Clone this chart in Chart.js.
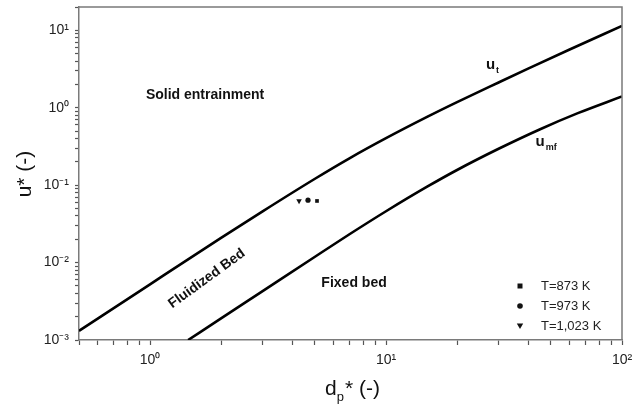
<!DOCTYPE html>
<html>
<head>
<meta charset="utf-8">
<script src="https://cdn.jsdelivr.net/npm/chart.js@4.4.0/dist/chart.umd.min.js"></script>
<style>
  body { margin: 0; background: #fff; }
  #wrap { width: 641px; height: 408px; }
</style>
</head>
<body>
<div id="wrap"><canvas id="regimeChart" width="641" height="408"></canvas></div>
<script>
// terminal velocity curve (u_t)
const utD = [0.5, 1, 2, 3, 5, 7, 10, 15, 20, 30, 40, 60, 100];
const utU = [0.00131, 0.00524, 0.0208, 0.0459, 0.121, 0.222, 0.404, 0.766, 1.18, 2.12, 3.2, 5.65, 11.4];

// minimum fluidization curve (u_mf)
const umfD = [1.45, 2, 3, 5, 7, 10, 15, 20, 30, 45, 65, 100];
const umfU = [0.001, 0.0019, 0.00428, 0.0119, 0.0232, 0.046, 0.0962, 0.157, 0.295, 0.528, 0.851, 1.4];

// experimental points
const tempLabels = ['T=873 K', 'T=973 K', 'T=1,023 K'];
const expD = [5.1, 4.67, 4.28];
const expU = [0.0625, 0.064, 0.0625];

// axis decades and tick labels
const xDecades = [1, 10, 100];
const xTickLabels = ['10\u2070', '10\u00b9', '10\u00b2'];
const yDecades = [0.001, 0.01, 0.1, 1, 10];
const yTickLabels = ['10\u207b\u00b3', '10\u207b\u00b2', '10\u207b\u00b9', '10\u2070', '10\u00b9'];

const FONT = '"Liberation Sans", Arial, sans-serif';

const toPoints = (xs, ys) => xs.map((x, i) => ({ x: x, y: ys[i] }));

// ticks at 1..9 x 10^n inside [min, max]
const logTicks = (min, max) => {
    const out = [];
    for (let n = -4; n <= 3; n++) {
        for (let k = 1; k <= 9; k++) {
            const v = parseFloat((k * Math.pow(10, n)).toPrecision(3));
            if (v >= min - 1e-9 && v <= max + 1e-9) out.push(v);
        }
    }
    return out;
};

const decadeLabel = (v, decades, labels) => {
    const i = decades.findIndex(d => Math.abs(v / d - 1) < 1e-6);
    return i >= 0 ? labels[i] : '';
};

// frame, axis titles, region labels, legend
const decorPlugin = {
    id: 'decor',
    afterDraw(chart) {
        const ctx = chart.ctx;
        const a = chart.chartArea;
        const xs = chart.scales.x, ys = chart.scales.y;
        ctx.save();

        // top and right border
        ctx.strokeStyle = '#7a7a7a';
        ctx.lineWidth = 1.5;
        ctx.beginPath();
        ctx.moveTo(a.left, a.top);
        ctx.lineTo(a.right, a.top);
        ctx.lineTo(a.right, a.bottom);
        ctx.stroke();

        ctx.fillStyle = '#111';
        ctx.textBaseline = 'middle';

        // y title
        ctx.save();
        ctx.translate(25, 174);
        ctx.rotate(-Math.PI / 2);
        ctx.textAlign = 'center';
        ctx.font = '21px ' + FONT;
        ctx.fillText('u* (-)', 0, 0);
        ctx.restore();

        // x title with subscript p
        ctx.textAlign = 'left';
        ctx.font = '21px ' + FONT;
        let x0 = 325;
        ctx.fillText('d', x0, 389);
        x0 += ctx.measureText('d').width;
        ctx.font = '13px ' + FONT;
        ctx.fillText('p', x0, 397);
        x0 += ctx.measureText('p').width + 1;
        ctx.font = '21px ' + FONT;
        ctx.fillText('* (-)', x0, 389);

        // region labels
        const px = v => xs.getPixelForValue(v);
        const py = v => ys.getPixelForValue(v);
        ctx.font = 'bold 14px ' + FONT;
        ctx.textAlign = 'center';
        ctx.fillText('Solid entrainment', px(1.71), py(1.45));
        ctx.fillText('Fixed bed', px(7.32), py(0.00545));

        ctx.save();
        ctx.translate(px(1.74), py(0.0062));
        ctx.rotate(-36 * Math.PI / 180);
        ctx.fillText('Fluidized Bed', 0, 0);
        ctx.restore();

        // curve labels
        const subLabel = (main, sub, x, y) => {
            ctx.textAlign = 'left';
            ctx.font = 'bold 15px ' + FONT;
            ctx.fillText(main, x, y);
            const w = ctx.measureText(main).width;
            ctx.font = 'bold 9px ' + FONT;
            ctx.fillText(sub, x + w + 1, y + 5);
        };
        subLabel('u', 't', px(26.5), py(3.55));
        subLabel('u', 'mf', px(43), py(0.36));

        // legend
        ctx.font = '13px ' + FONT;
        ctx.textAlign = 'left';
        const styles = ['rect', 'circle', 'triangle'];
        tempLabels.forEach((label, i) => {
            const ly = 286 + i * 20;
            const mx = 520;
            ctx.fillStyle = '#111';
            ctx.beginPath();
            if (styles[i] === 'rect') {
                ctx.rect(mx - 2.5, ly - 2.5, 5, 5);
            } else if (styles[i] === 'circle') {
                ctx.arc(mx, ly, 2.8, 0, Math.PI * 2);
            } else {
                ctx.moveTo(mx - 3.2, ly - 2.5);
                ctx.lineTo(mx + 3.2, ly - 2.5);
                ctx.lineTo(mx, ly + 3);
                ctx.closePath();
            }
            ctx.fill();
            ctx.fillStyle = '#222';
            ctx.fillText(label, 541, ly);
        });

        ctx.restore();
    }
};

const ctx = document.getElementById('regimeChart').getContext('2d');
new Chart(ctx, {
    type: 'scatter',
    data: {
        datasets: [
            {
                label: 'u_t',
                data: toPoints(utD, utU),
                showLine: true,
                borderColor: '#000',
                borderWidth: 2.6,
                pointRadius: 0,
                cubicInterpolationMode: 'monotone'
            },
            {
                label: 'u_mf',
                data: toPoints(umfD, umfU),
                showLine: true,
                borderColor: '#000',
                borderWidth: 2.6,
                pointRadius: 0,
                cubicInterpolationMode: 'monotone'
            },
            {
                label: tempLabels[0],
                data: [{ x: expD[0], y: expU[0] }],
                pointStyle: 'rect',
                pointRadius: 2.6,
                backgroundColor: '#111',
                borderWidth: 0
            },
            {
                label: tempLabels[1],
                data: [{ x: expD[1], y: expU[1] }],
                pointStyle: 'circle',
                pointRadius: 2.6,
                backgroundColor: '#111',
                borderWidth: 0
            },
            {
                label: tempLabels[2],
                data: [{ x: expD[2], y: expU[2] }],
                pointStyle: 'triangle',
                pointRotation: 180,
                pointRadius: 3.2,
                backgroundColor: '#111',
                borderWidth: 0
            }
        ]
    },
    options: {
        responsive: false,
        animation: false,
        layout: { padding: { top: 7, right: 19, left: 0, bottom: 0 } },
        plugins: {
            legend: { display: false },
            tooltip: { enabled: false }
        },
        scales: {
            x: {
                type: 'logarithmic',
                min: 0.5,
                max: 100,
                afterFit: s => {
                    s.height = 68;
                    s.paddingLeft = 0;
                    s.paddingRight = 0;
                },
                afterBuildTicks: s => {
                    s.ticks = logTicks(0.5, 100).map(v => ({ value: v }));
                },
                grid: {
                    drawOnChartArea: false,
                    drawTicks: true,
                    tickLength: 5,
                    tickColor: '#555',
                    tickWidth: 1.2
                },
                border: { display: true, color: '#7a7a7a', width: 1.5 },
                ticks: {
                    autoSkip: false,
                    maxRotation: 0,
                    padding: 7,
                    color: '#222',
                    font: { family: FONT, size: 14 },
                    callback: v => decadeLabel(v, xDecades, xTickLabels)
                }
            },
            y: {
                type: 'logarithmic',
                min: 0.001,
                max: 20,
                afterFit: s => {
                    s.width = 79;
                    s.paddingTop = 0;
                    s.paddingBottom = 0;
                },
                afterBuildTicks: s => {
                    s.ticks = logTicks(0.001, 20).map(v => ({ value: v }));
                },
                grid: {
                    drawOnChartArea: false,
                    drawTicks: true,
                    tickLength: 4,
                    tickColor: '#555',
                    tickWidth: 1.2
                },
                border: { display: true, color: '#7a7a7a', width: 1.5 },
                ticks: {
                    autoSkip: false,
                    padding: 6,
                    color: '#222',
                    font: { family: FONT, size: 14 },
                    callback: v => decadeLabel(v, yDecades, yTickLabels)
                }
            }
        }
    },
    plugins: [decorPlugin]
});
</script>
</body>
</html>
